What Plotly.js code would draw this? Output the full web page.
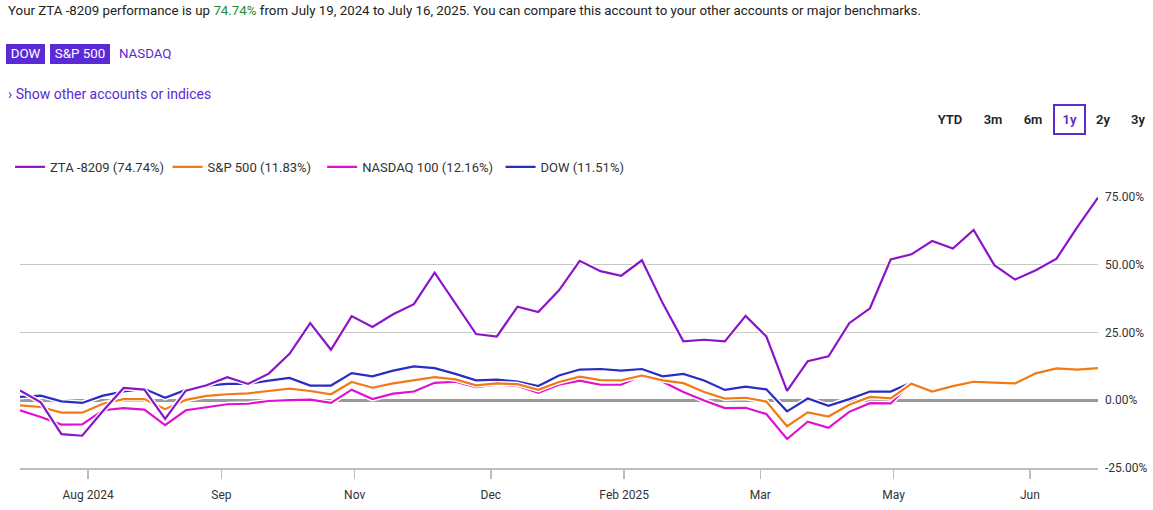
<!DOCTYPE html>
<html>
<head>
<meta charset="utf-8">
<script src="https://cdn.plot.ly/plotly-3.0.1.min.js"></script>
<style>
  html, body { margin: 0; padding: 0; background: #fff; }
  body { width: 1153px; height: 510px; position: relative; overflow: hidden; font-family: Roboto, "Noto Sans", sans-serif; color: #222; }
  #chart { position: absolute; left: 0; top: 0; width: 1153px; height: 510px; }
  .hdr { position: absolute; left: 8px; top: 3px; font-size: 13.3px; white-space: nowrap; z-index: 2; }
  .hdr .up { color: #1f8a3b; }
  .btns { position: absolute; left: 6px; top: 44px; height: 20px; z-index: 2; font-size: 13.3px; }
  .btn { position: absolute; top: 0; height: 20px; line-height: 20px; text-align: center; color: #fff; background: #5a2ad6; }
  .btn.off { background: transparent; color: #5a2ad6; text-align: left; }
  .show { position: absolute; left: 8px; top: 86px; font-size: 14px; color: #5a2ad6; z-index: 2; white-space: nowrap; }
  .range { position: absolute; top: 104px; height: 31px; z-index: 2; font-size: 13px; font-weight: 600; color: #222; line-height: 31px; text-align: center; box-sizing: border-box; }
  .range.sel { border: 2px solid #5a2ad6; color: #5a2ad6; line-height: 27px; }
</style>
</head>
<body>
<div id="chart"></div>
<div class="hdr">Your ZTA -8209 performance is up <span class="up">74.74%</span> from July 19, 2024 to July 16, 2025. You can compare this account to your other accounts or major benchmarks.</div>
<div class="btns">
  <div class="btn" style="left:0;width:39px;">DOW</div>
  <div class="btn" style="left:44px;width:60px;">S&amp;P 500</div>
  <div class="btn off" style="left:113px;width:60px;">NASDAQ</div>
</div>
<div class="show">› Show other accounts or indices</div>
<div class="range" style="left:932px;width:36px;">YTD</div>
<div class="range" style="left:976px;width:34px;">3m</div>
<div class="range" style="left:1016px;width:34px;">6m</div>
<div class="range sel" style="left:1053px;width:33px;">1y</div>
<div class="range" style="left:1086px;width:34px;">2y</div>
<div class="range" style="left:1121px;width:34px;">3y</div>
<script>
// ---- data ----
const dates = [
  '2024-07-19','2024-07-26','2024-08-02','2024-08-09','2024-08-16','2024-08-23','2024-08-30',
  '2024-09-06','2024-09-13','2024-09-20','2024-09-27','2024-10-04','2024-10-11','2024-10-18',
  '2024-10-25','2024-11-01','2024-11-08','2024-11-15','2024-11-22','2024-11-29','2024-12-06',
  '2024-12-13','2024-12-20','2024-12-27','2025-01-03','2025-01-10','2025-01-17','2025-01-24',
  '2025-01-31','2025-02-07','2025-02-14','2025-02-21','2025-02-28','2025-03-07','2025-03-14',
  '2025-03-21','2025-03-28','2025-04-04','2025-04-11','2025-04-18','2025-04-25','2025-05-02',
  '2025-05-09','2025-05-16','2025-05-23','2025-05-30','2025-06-06','2025-06-13','2025-06-20',
  '2025-06-27','2025-07-04','2025-07-11','2025-07-18'
];
const zta = [3.6, -0.8, -12.5, -13.1, -4.0, 4.5, 3.9, -6.9, 3.5, 5.5, 8.5, 6.0, 9.8,
  17.1, 28.4, 18.6, 31.0, 27.0, 31.7, 35.4, 47.0, 35.8, 24.4, 23.5, 34.5, 32.5, 40.5, 51.4, 47.6, 45.9, 51.6,
  35.8, 21.7, 22.3, 21.7, 31.1, 23.5, 3.4, 14.4, 16.2, 28.4, 33.9, 51.9, 53.8, 58.7, 55.9, 62.8, 49.8, 44.5, 47.9, 52.2, 63.8, 74.74];
const sp500 = [-1.9, -2.5, -4.6, -4.6, -1.3, 0.4, 0.4, -3.3, 0.1, 1.6, 2.2, 2.5, 3.4, 4.3, 3.4, 2.2, 6.7, 4.6,
  6.2, 7.4, 8.5, 7.7, 5.5, 6.2, 5.9, 3.8, 6.7, 8.7, 7.4, 7.3, 9.1, 7.3, 6.3, 3.0, 0.6, 0.9,
  -0.5, -9.6, -4.5, -6.0, -1.7, 1.2, 0.7, 6.1, 3.2, 5.2, 6.8, 6.5, 6.2, 9.9, 11.7, 11.3, 11.83];
const nasdaq = [-3.7, -6.2, -9.0, -8.9, -3.7, -2.9, -3.5, -9.2, -3.7, -2.5, -1.5, -1.3, -0.3, 0.0, 0.2, -1.0, 3.9, 0.4,
  2.4, 3.2, 6.4, 6.8, 4.8, 5.7, 5.3, 2.7, 5.7, 7.2, 5.7, 5.7, 9.1, 6.8, 3.0, -0.1, -2.9, -2.8,
  -5.1, -14.3, -7.9, -10.2, -4.3, -1.1, -1.2, 6.5];
const dow = [1.2, 1.7, -0.4, -1.0, 1.7, 3.2, 4.2, 0.9, 3.8, 5.4, 6.0, 6.0, 7.2, 8.2, 5.4, 5.4, 10.0, 8.8,
  10.9, 12.5, 11.8, 9.7, 7.3, 7.6, 6.9, 5.2, 9.1, 11.3, 11.5, 10.9, 11.5, 8.8, 9.7, 7.3, 3.8, 5.0,
  4.0, -4.1, 0.6, -2.1, 0.4, 3.2, 3.2, 6.5];
const seriesNames = ['ZTA -8209 (74.74%)', 'S&P 500 (11.83%)', 'NASDAQ 100 (12.16%)', 'DOW (11.51%)'];
const xTickVals = ['2024-08-11','2024-09-25','2024-11-09','2024-12-25','2025-02-08','2025-03-26','2025-05-10','2025-06-25'];
const xTickText = ['Aug 2024','Sep','Nov','Dec','Feb 2025','Mar','May','Jun'];
const yTickVals = [-25, 0, 25, 50, 75];
const yTickText = ['-25.00%','0.00%','25.00%','50.00%','75.00%'];

// ---- traces ----
const colors = { zta: '#8b14c8', sp: '#f27a14', nq: '#e010d2', dow: '#2a2cc2' };
function halo(y) {
  return { x: dates.slice(0, y.length), y: y, mode: 'lines', type: 'scatter',
    line: { color: '#ffffff', width: 5 }, showlegend: false, hoverinfo: 'skip' };
}
function line(y, name, color, legendId) {
  return { x: dates.slice(0, y.length), y: y, mode: 'lines', type: 'scatter', name: name,
    line: { color: color, width: 2.2 }, legend: legendId };
}
const data = [
  halo(dow), line(dow, seriesNames[3], colors.dow, 'legend4'),
  halo(nasdaq), line(nasdaq, seriesNames[2], colors.nq, 'legend3'),
  halo(sp500), line(sp500, seriesNames[1], colors.sp, 'legend2'),
  halo(zta), line(zta, seriesNames[0], colors.zta, 'legend')
];

function leg(x) {
  return { orientation: 'h', x: x, xanchor: 'left', y: 1.107, yanchor: 'middle',
    font: { size: 13, color: '#333' }, bgcolor: 'rgba(0,0,0,0)' };
}
const layout = {
  width: 1153, height: 510,
  margin: { l: 10, r: 55, t: 196, b: 42 },
  paper_bgcolor: 'rgba(0,0,0,0)', plot_bgcolor: 'rgba(0,0,0,0)',
  font: { family: 'Roboto, sans-serif', size: 12, color: '#333' },
  showlegend: true,
  legend: leg(-0.0092), legend2: leg(0.1369), legend3: leg(0.2803), legend4: leg(0.4458),
  hovermode: false,
  xaxis: {
    type: 'date', range: [dates[0], dates[dates.length - 1]],
    tickmode: 'array', tickvals: xTickVals, ticktext: xTickText,
    ticks: 'outside', ticklen: 9, tickwidth: 1.5, tickcolor: '#bdbdbd',
    showgrid: false, zeroline: false, showline: true, linecolor: '#bdbdbd', linewidth: 1.5,
    tickfont: { size: 12, color: '#333' }, ticklabelstandoff: 6, fixedrange: true
  },
  yaxis: {
    side: 'right', range: [-25, 75.3],
    tickmode: 'array', tickvals: yTickVals, ticktext: yTickText,
    showgrid: true, gridcolor: '#c6c6c6', gridwidth: 1.5,
    zeroline: true, zerolinecolor: '#9a9a9a', zerolinewidth: 3,
    showline: false, ticks: '', tickfont: { size: 12, color: '#333' },
    ticklabelstandoff: 6, fixedrange: true
  }
};
Plotly.newPlot('chart', data, layout, { displayModeBar: false, staticPlot: true });
</script>
</body>
</html>
